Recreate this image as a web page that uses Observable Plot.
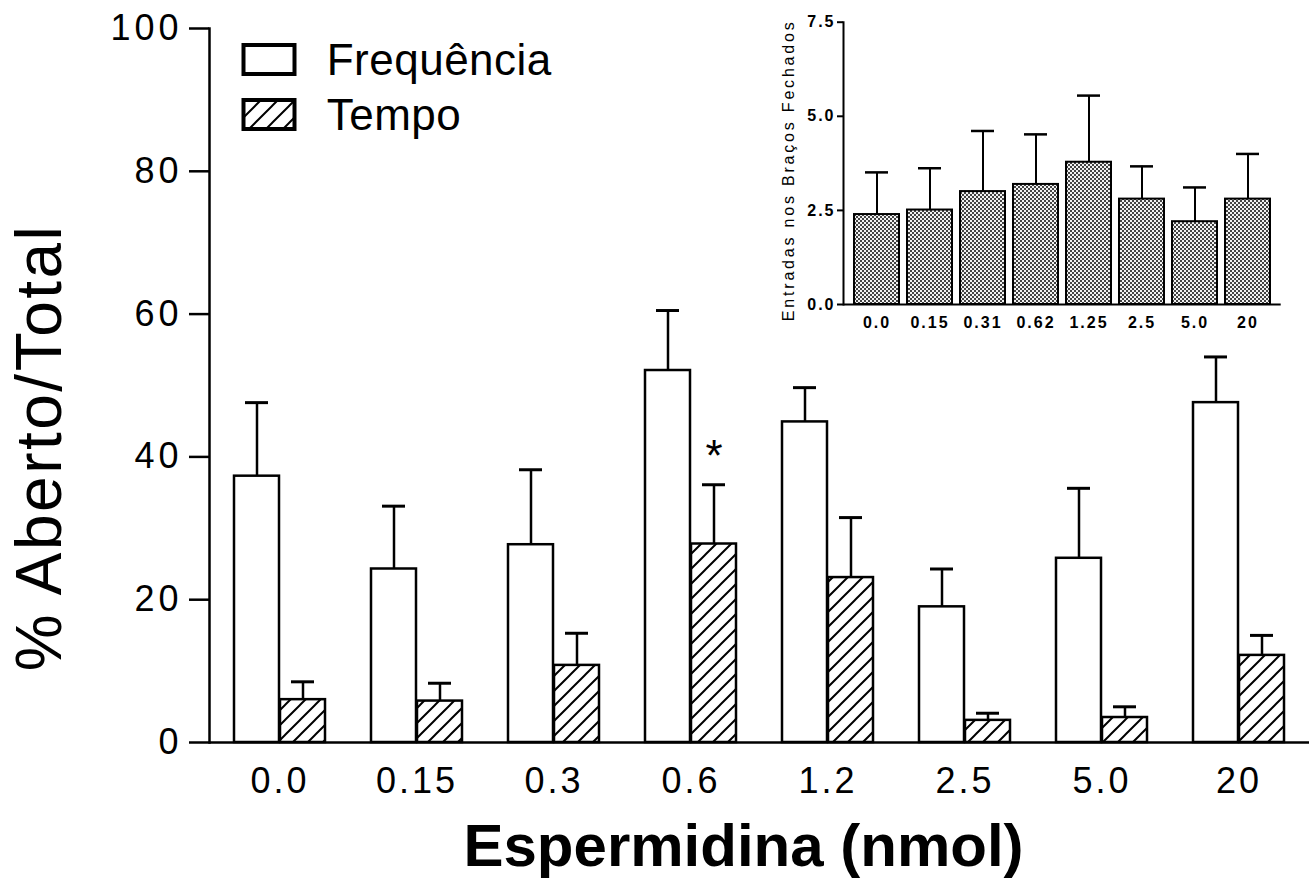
<!DOCTYPE html>
<html><head><meta charset="utf-8">
<script src="https://cdn.jsdelivr.net/npm/d3@7"></script>
<script src="https://cdn.jsdelivr.net/npm/@observablehq/plot@0.6"></script>
<style>
body{margin:0;background:#fff;}
#wrap{position:relative;width:1310px;height:889px;font-family:"Liberation Sans",Arial,sans-serif;}
#inset{position:absolute;left:760px;top:0;}
#legend{position:absolute;left:0;top:0;}
</style></head><body><div id="wrap"><div id="main"></div><div id="inset"></div><svg id="legend" width="600" height="150"></svg></div>
<script>
// ---- main chart data ----
const doses = ["0.0","0.15","0.3","0.6","1.2","2.5","5.0","20"];
const seriesNames = ["Frequência","Tempo"];
const freqMean = [37.3, 24.3, 27.7, 52.1, 44.9, 19.0, 25.8, 47.6];
const freqSem  = [10.3, 8.8, 10.5, 8.4, 4.8, 5.3, 9.8, 6.4];
const tempoMean = [6.0, 5.8, 10.8, 27.8, 23.1, 3.1, 3.5, 12.2];
const tempoSem  = [2.5, 2.5, 4.5, 8.3, 8.4, 1.0, 1.5, 2.8];
const yTicks = [0, 20, 40, 60, 80, 100];
const sigDoses = ["0.6"];
const sigSeries = ["Tempo"];
const sigMarks = ["*"];
const xLabel = "Espermidina (nmol)";
const yLabel = "% Aberto/Total";

// ---- inset data ----
const insetDoses = ["0.0","0.15","0.31","0.62","1.25","2.5","5.0","20"];
const closedMean = [2.39, 2.51, 3.00, 3.19, 3.78, 2.80, 2.20, 2.80];
const closedSem  = [1.12, 1.11, 1.61, 1.33, 1.77, 0.87, 0.91, 1.20];
const insetTicks = [0, 2.5, 5.0, 7.5];
const insetYLabel = "Entradas nos Braços Fechados";

const FONT = "Liberation Sans, Arial, Helvetica, sans-serif";

const rows = doses.map((d, i) => ({dose: d, freq: freqMean[i], freqSem: freqSem[i], tempo: tempoMean[i], tempoSem: tempoSem[i]}));
const sig = sigDoses.map((d, i) => {
  const r = rows.find(r => r.dose === d);
  const top = sigSeries[i] === "Tempo" ? r.tempo + r.tempoSem : r.freq + r.freqSem;
  return {dose: d, top, mark: sigMarks[i], series: sigSeries[i]};
});

function defsMark(builder) {
  return () => {
    const defs = d3.create("svg:defs");
    builder(defs);
    return defs.node();
  };
}

const main = Plot.plot({
  width: 1310, height: 889,
  marginLeft: 209, marginRight: 1, marginTop: 28, marginBottom: 147,
  style: {fontFamily: FONT, background: "transparent", color: "black"},
  x: {domain: doses, paddingInner: 1/3, paddingOuter: 0.155},
  y: {domain: [0, 100]},
  marks: [
    defsMark(defs => {
      const p = defs.append("pattern").attr("id", "hatch").attr("patternUnits", "userSpaceOnUse")
        .attr("width", 15).attr("height", 15);
      p.append("rect").attr("width", 15).attr("height", 15).attr("fill", "white");
      p.append("path").attr("d", "M0,15L15,0M-4,4L4,-4M11,19L19,11").attr("stroke", "black").attr("stroke-width", 2);
    }),
    Plot.ruleX(rows, {x: "dose", y1: "freq", y2: d => d.freq + d.freqSem, dx: -23, strokeWidth: 2.5}),
    Plot.tickY(rows, {x: "dose", y: d => d.freq + d.freqSem, insetLeft: 11, insetRight: 57, strokeWidth: 3}),
    Plot.ruleX(rows, {x: "dose", y1: "tempo", y2: d => d.tempo + d.tempoSem, dx: 23, strokeWidth: 2.5}),
    Plot.tickY(rows, {x: "dose", y: d => d.tempo + d.tempoSem, insetLeft: 57, insetRight: 11, strokeWidth: 3}),
    Plot.barY(rows, {x: "dose", y: "freq", fill: "white", stroke: "black", strokeWidth: 2.5, insetRight: 46}),
    Plot.barY(rows, {x: "dose", y: "tempo", fill: "url(#hatch)", stroke: "black", strokeWidth: 2.5, insetLeft: 46}),
    Plot.ruleY([0], {strokeWidth: 2.5}),
    Plot.frame({anchor: "left", strokeWidth: 2.5}),
    Plot.axisY({ticks: yTicks, tickSize: 20, tickPadding: 7, fontSize: 36, strokeWidth: 2.5, label: null}),
    Plot.axisX({tickSize: 0, tickPadding: 25, fontSize: 36, label: null}),
    Plot.text(sig, {x: "dose", y: "top", text: "mark", dx: 23, dy: -28, fontSize: 44}),
    Plot.text([xLabel], {frameAnchor: "bottom", textAnchor: "middle", lineAnchor: "middle", dx: -16, dy: 104, fontSize: 60, fontWeight: "bold"}),
    Plot.text([yLabel], {frameAnchor: "left", textAnchor: "middle", lineAnchor: "middle", rotate: -90, dx: -169, dy: 62, fontSize: 64})
  ]
});
d3.select(main).selectAll('g[aria-label="y-axis tick label"] text').style("letter-spacing", "4px");
d3.select(main).selectAll('g[aria-label="x-axis tick label"] text').style("letter-spacing", "3px");
d3.select(main).selectAll('g[aria-label="text"] text').filter(function() { return this.textContent === yLabel; }).style("letter-spacing", "2.5px");
document.getElementById("main").appendChild(main);

// ---- inset ----
const insetRows = insetDoses.map((d, i) => ({dose: d, v: closedMean[i], sem: closedSem[i]}));
const inset = Plot.plot({
  width: 530, height: 340,
  marginLeft: 83, marginRight: 9.3, marginTop: 21.7, marginBottom: 36,
  style: {fontFamily: FONT, background: "transparent", color: "black"},
  x: {domain: insetDoses, paddingInner: 0.16, paddingOuter: 0.168},
  y: {domain: [0, 7.5]},
  marks: [
    defsMark(defs => {
      const p = defs.append("pattern").attr("id", "stipple").attr("patternUnits", "userSpaceOnUse")
        .attr("width", 4).attr("height", 4);
      p.append("rect").attr("width", 4).attr("height", 4).attr("fill", "#f2f2f2");
      p.append("rect").attr("width", 2).attr("height", 2).attr("fill", "#444");
      p.append("rect").attr("x", 2).attr("y", 2).attr("width", 2).attr("height", 2).attr("fill", "#444");
    }),
    Plot.ruleX(insetRows, {x: "dose", y1: "v", y2: d => d.v + d.sem, strokeWidth: 2}),
    Plot.tickY(insetRows, {x: "dose", y: d => d.v + d.sem, insetLeft: 11, insetRight: 11, strokeWidth: 2.5}),
    Plot.barY(insetRows, {x: "dose", y: "v", fill: "url(#stipple)", stroke: "black", strokeWidth: 2}),
    Plot.ruleY([0], {strokeWidth: 2}),
    Plot.frame({anchor: "left", strokeWidth: 2}),
    Plot.axisY({ticks: insetTicks, tickFormat: d => d.toFixed(1), tickSize: 6, tickPadding: 2, fontSize: 16, fontWeight: "bold", strokeWidth: 2, label: null}),
    Plot.axisX({tickSize: 0, tickPadding: 12, fontSize: 16, fontWeight: "bold", label: null}),
    Plot.text([insetYLabel], {frameAnchor: "left", textAnchor: "middle", lineAnchor: "middle", rotate: -90, dx: -55, dy: 7, fontSize: 16})
  ]
});
d3.select(inset).selectAll('g[aria-label="y-axis tick label"] text').style("letter-spacing", "2px");
d3.select(inset).selectAll('g[aria-label="x-axis tick label"] text').style("letter-spacing", "2px");
d3.select(inset).selectAll('g[aria-label="text"] text').style("letter-spacing", "2.8px");
document.getElementById("inset").appendChild(inset);

// ---- legend ----
const lg = d3.select("#legend").style("font-family", FONT);
const hp = lg.append("defs").append("pattern").attr("id", "hatchLegend").attr("patternUnits", "userSpaceOnUse")
  .attr("width", 17).attr("height", 17);
hp.append("rect").attr("width", 17).attr("height", 17).attr("fill", "white");
hp.append("path").attr("d", "M0,17L17,0M-4,4L4,-4M13,21L21,13").attr("stroke", "black").attr("stroke-width", 2);
const fills = ["white", "url(#hatchLegend)"];
seriesNames.forEach((name, i) => {
  const g = lg.append("g").attr("transform", `translate(0,${i * 55})`);
  g.append("rect").attr("x", 243.5).attr("y", 45).attr("width", 51).attr("height", 29)
    .attr("fill", fills[i]).attr("stroke", "black").attr("stroke-width", 4);
  g.append("text").attr("x", 326.7).attr("y", 75).attr("font-size", 44).style("letter-spacing", "0.5px").text(name);
});
</script>
</body></html>
